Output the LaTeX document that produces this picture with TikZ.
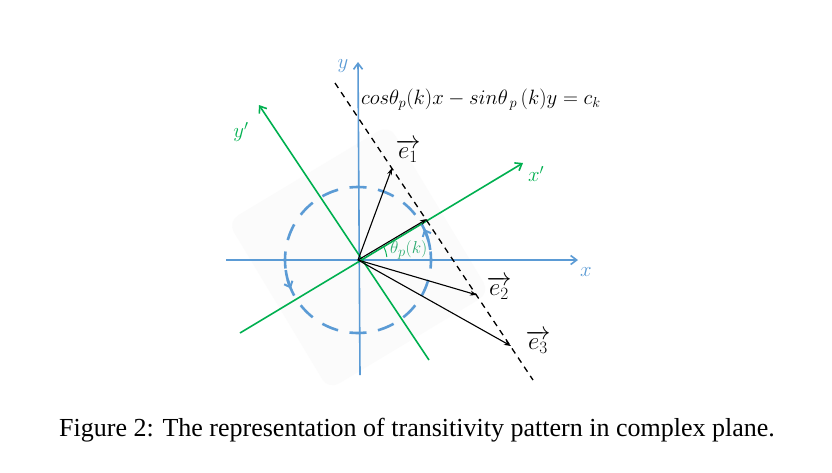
\documentclass[tikz,border=0pt]{standalone}
\usepackage{fontspec}
\setmainfont{Liberation Serif}
\usetikzlibrary{arrows.meta,calc}
\definecolor{axblue}{RGB}{91,155,213}
\definecolor{lgreen}{RGB}{0,176,80}
\definecolor{tgreen}{RGB}{40,170,110}
\definecolor{bgshade}{RGB}{251,251,251}
\begin{document}
\begin{tikzpicture}[x=1pt,y=-1pt,
  axisline/.style={draw=axblue, line width=1.6pt, -{Straight Barb[length=6pt,width=9pt,line width=1.6pt]}},
  primeline/.style={draw=lgreen, line width=1.6pt},
  primearrow/.style={primeline, -{Straight Barb[length=6pt,width=9pt,line width=1.6pt]}},
  circline/.style={draw=axblue, line width=2.6pt, dash pattern=on 17pt off 11.67pt, dash phase=8.5pt},
  circarrow/.style={draw=axblue, line width=2.6pt, -{Straight Barb[length=5pt,width=9pt,line width=2pt]}},
  vecarrow/.style={draw=black, line width=1.1pt, -{Stealth[length=7pt,width=5pt]}},
  dashline/.style={draw=black, line width=1.3pt, dash pattern=on 6pt off 5pt},
  bluelabel/.style={text=axblue, font=\fontsize{20}{24}\selectfont},
  greenlabel/.style={text=lgreen, font=\fontsize{20}{24}\selectfont},
  veclabel/.style={font=\fontsize{23}{27}\selectfont, inner sep=1pt},
]
\useasboundingbox (0,0) rectangle (832,472);
\fill[white] (0,0) rectangle (832,472);
% faint background square
\begin{scope}[shift={(358,260)}, rotate=31]
  \fill[bgshade, rounded corners=12pt] (-92,-100) rectangle (96,96);
\end{scope}
% points
\coordinate (O) at (358,260);
\coordinate (xs) at (226,260);
\coordinate (xe) at (578,260);
\coordinate (ys) at (360,375);
\coordinate (ye) at (358,62);
\coordinate (xps) at (240,333);
\coordinate (xpe) at (523,163);
\coordinate (yps) at (429,360);
\coordinate (ype) at (259,105);
\coordinate (ds) at (335,83);
\coordinate (de) at (533,380);
\coordinate (P) at (427,219);
\coordinate (E1) at (392,168);
\coordinate (E2) at (477,295);
\coordinate (E3) at (511,346);
% axes
\draw[axisline] (xs) -- (xe);
\draw[axisline] (ys) -- (ye);
% rotated axes
\draw[primearrow] (xps) -- (xpe);
\draw[primearrow] (yps) -- (ype);
% dashed circle
\draw[circline] (O) circle[radius=73];
\draw[circarrow] (O) ++(-188:73) arc[start angle=-188, end angle=-203, radius=73];
\draw[circarrow] (O) ++(-8:73) arc[start angle=-8, end angle=-25, radius=73];
% dashed line
\draw[dashline] (ds) -- (de);
% angle
\draw[lgreen, line width=0.9pt] (O) ++(-6:29) arc[start angle=-6, end angle=-27, radius=29];
\node[text=tgreen, font=\fontsize{19}{22}\selectfont, anchor=west, inner sep=1pt] (theta) at (389,250) {$\theta_p(k)$};
% vectors
\draw[vecarrow] (O) -- (E1);
\draw[vecarrow] (O) -- (P);
\draw[vecarrow] (O) -- (E2);
\draw[vecarrow] (O) -- (E3);
% labels
\node[bluelabel] (ylab) at (343,66) {$y$};
\node[bluelabel] (xlab) at (586,272) {$x$};
\node[greenlabel] (xplab) at (536,174) {$x'$};
\node[greenlabel] (yplab) at (241,132) {$y'$};
\node[veclabel] (e1lab) at (408,151) {$\overrightarrow{e_1}$};
\node[veclabel] (e2lab) at (499,288) {$\overrightarrow{e_2}$};
\node[veclabel] (e3lab) at (538,342) {$\overrightarrow{e_3}$};
\node[anchor=west, font=\fontsize{20}{24}\selectfont, inner sep=0pt] (eq) at (361,100)
  {$cos\theta_p(k)x-sin\theta_{\,p}\,(k)y=c_k$};
% caption
\node[font=\fontsize{26}{30}\selectfont] (cap) at (417,430)
  {Figure 2: The representation of transitivity pattern in complex plane.};
\end{tikzpicture}
\end{document}
